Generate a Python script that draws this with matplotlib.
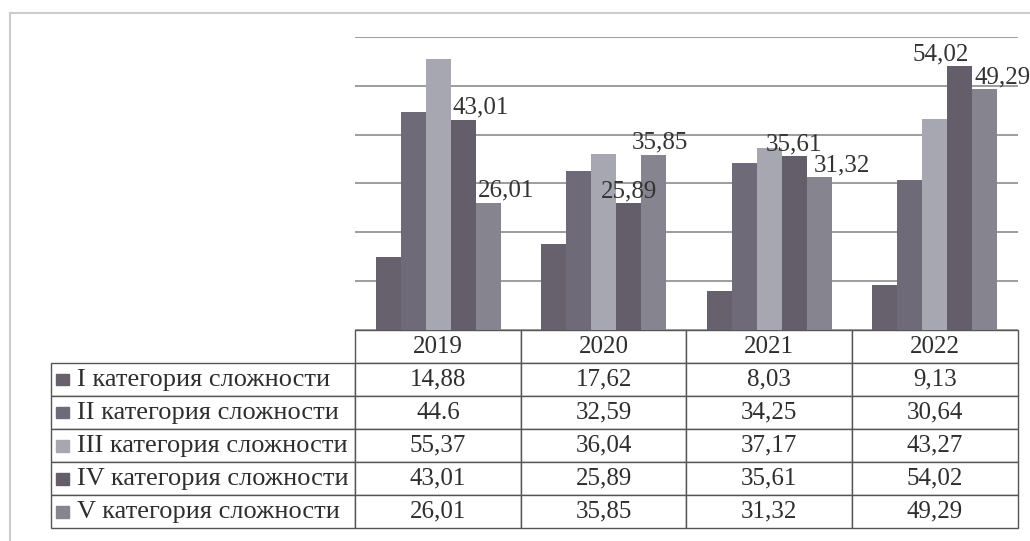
import matplotlib.pyplot as plt
from matplotlib.patches import Rectangle
from matplotlib.table import Table
import numpy as np

years = ["2019", "2020", "2021", "2022"]
categories = ["I категория сложности", "II категория сложности",
              "III категория сложности", "IV категория сложности",
              "V категория сложности"]
cat1 = [14.88, 17.62, 8.03, 9.13]
cat2 = [44.6, 32.59, 34.25, 30.64]
cat3 = [55.37, 36.04, 37.17, 43.27]
cat4 = [43.01, 25.89, 35.61, 54.02]
cat5 = [26.01, 35.85, 31.32, 49.29]
# the table prints 44.6 with a dot, the rest with commas
cell_text = [["14,88", "17,62", "8,03", "9,13"],
             ["44.6", "32,59", "34,25", "30,64"],
             ["55,37", "36,04", "37,17", "43,27"],
             ["43,01", "25,89", "35,61", "54,02"],
             ["26,01", "35,85", "31,32", "49,29"]]

series = [cat1, cat2, cat3, cat4, cat5]
colors = ["#67616d", "#6f6a77", "#a6a7b0", "#645d6a", "#85848f"]
# labelled series (IV, V) and horizontal nudges of their labels, in bar widths
label_shift = {3: [0.7, 0.0, 0.0, -0.75], 4: [0.7, 0.25, 0.9, 0.7]}

plt.rcParams["font.family"] = ["Liberation Serif", "DejaVu Serif"]

fig = plt.figure(figsize=(10.30, 5.41), dpi=100)
ax = fig.add_axes([0.345, 0.39, 0.643, 0.542])

x = np.arange(len(years))
w = 0.151
for i, vals in enumerate(series):
    pos = x + (i - 2) * w
    ax.bar(pos, vals, w, color=colors[i], zorder=2)
    if i in label_shift:
        for j, v in enumerate(vals):
            ax.text(pos[j] + label_shift[i][j] * w, v + 0.2, cell_text[i][j],
                    ha="center", va="bottom", fontsize=18, color="#333333",
                    zorder=3)

ax.set_xlim(-0.5, 3.5)
ax.set_ylim(0, 60)
ax.set_yticks(np.arange(0, 61, 10))
ax.yaxis.grid(True, color="#8c8c8c", linewidth=1.2, zorder=0)
ax.set_xticks([])
ax.tick_params(left=False, labelleft=False)
for s in ["top", "left", "right", "bottom"]:
    ax.spines[s].set_visible(False)

# data table under the plot (row label column + one column per year)
lab_w, col_w, row_h = 0.46, 0.25, 0.676 / 6
tbl = Table(ax, bbox=[-lab_w, -0.676, lab_w + 4 * col_w, 0.676])
tbl.auto_set_font_size(False)
for j, yr in enumerate(years):
    tbl.add_cell(0, j + 1, col_w, row_h, text=yr, loc="center")
for i, cat in enumerate(categories):
    c = tbl.add_cell(i + 1, 0, lab_w, row_h, text=cat, loc="left")
    c.PAD = 0.085
    for j in range(len(years)):
        tbl.add_cell(i + 1, j + 1, col_w, row_h, text=cell_text[i][j], loc="center")
tbl.set_fontsize(18)
for (r, c), cell in tbl.get_celld().items():
    cell.set_edgecolor("#555555")
    cell.set_linewidth(1.0)
    cell.get_text().set_color("#2e2e2e")
    if c == 0:
        cell.get_text().set_fontsize(19)
ax.add_table(tbl)

# legend keys in front of the row labels
for i in range(len(categories)):
    yk = -0.676 + (4 - i + 0.5) * row_h - 0.02
    ax.add_patch(Rectangle((-0.4525, yk), 0.0196, 0.04, transform=ax.transAxes,
                           color=colors[i], clip_on=False))

# faint scanned frame
fig.add_artist(plt.Line2D([0.01, 1.0], [0.976, 0.976], color="#cccccc", lw=1.5))
fig.add_artist(plt.Line2D([0.01, 0.01], [0.0, 0.976], color="#cccccc", lw=1.5))

plt.savefig("out.png", dpi=100)
